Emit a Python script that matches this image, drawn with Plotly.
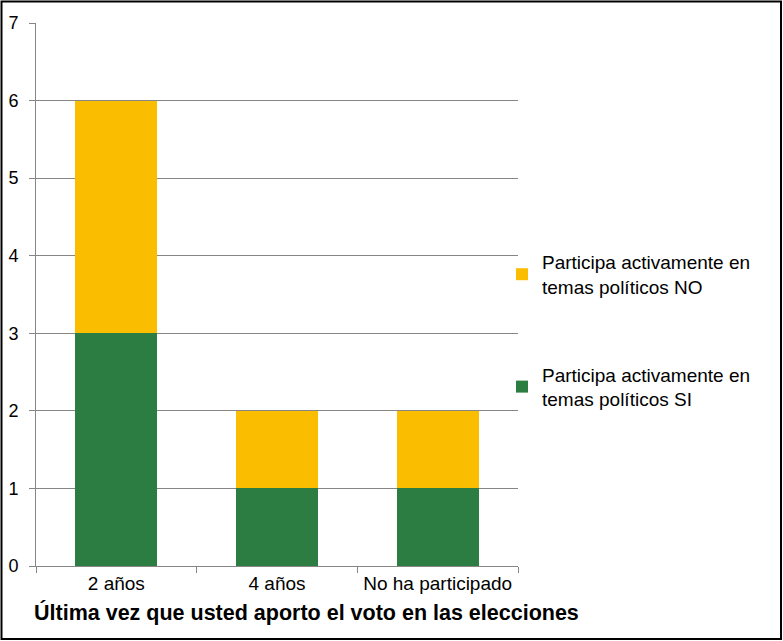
import plotly.graph_objects as go

categories = ["2 años", "4 años", "No ha participado"]
si_values = [3, 1, 1]
no_values = [3, 1, 1]
series_names = ["Participa activamente en<br>temas políticos SI",
                "Participa activamente en<br>temas políticos NO"]
x_title = "Última vez que usted aporto el voto en las elecciones"

W, H = 783, 641
L, R, T, B = 36, 518, 23, 566
pw, ph = R - L, B - T

def px_x(x):
    return (x - L) / pw

def px_y(y):
    return (B - y) / ph

fig = go.Figure()
fig.add_trace(go.Bar(x=categories, y=si_values, name=series_names[0],
                     marker=dict(color="#2B7D42", line=dict(width=0)),
                     legendgroup="si", legendrank=2))
fig.add_trace(go.Bar(x=categories, y=no_values, name=series_names[1],
                     marker=dict(color="#FABD00", line=dict(width=0)),
                     legendgroup="no", legendrank=1))

fig.update_layout(
    width=W, height=H,
    margin=dict(l=L, r=W - R, t=T, b=H - B, autoexpand=False),
    barmode="stack", bargap=0.49,
    plot_bgcolor="white", paper_bgcolor="white",
    font=dict(family="Liberation Sans, Arial", size=15, color="#000000"),
    showlegend=True,
    legend=dict(x=px_x(502), y=px_y(243), xanchor="left", yanchor="top",
                traceorder="grouped", tracegroupgap=60,
                font=dict(size=19), itemwidth=30, bgcolor="rgba(0,0,0,0)"),
    xaxis=dict(showline=True, linecolor="#868686", linewidth=1,
               ticks="outside", tickson="boundaries", ticklen=6,
               tickcolor="#868686", showgrid=False, automargin=False,
               tickfont=dict(size=19), ticklabelstandoff=0),
    yaxis=dict(range=[0, 7], dtick=1, showline=True, linecolor="#868686",
               linewidth=1, ticks="outside", ticklen=6, tickcolor="#868686",
               showgrid=True, gridcolor="#868686", gridwidth=1, automargin=False,
               zeroline=False, tickfont=dict(size=18), ticklabelstandoff=7),
    annotations=[dict(text="<b>" + x_title + "</b>", xref="paper", yref="paper",
                      x=px_x(306), y=px_y(612), xanchor="center", yanchor="middle",
                      showarrow=False, font=dict(size=21.5, color="#000000"))],
    shapes=[dict(type="rect", xref="paper", yref="paper",
                 x0=px_x(1.5), x1=px_x(781), y0=px_y(639), y1=px_y(1.5),
                 line=dict(color="#000000", width=2), fillcolor="rgba(0,0,0,0)",
                 layer="above")],
)

fig.write_html("out.html", config={"displayModeBar": False},
               post_script="document.body.style.margin='0';document.body.style.overflow='hidden';")
